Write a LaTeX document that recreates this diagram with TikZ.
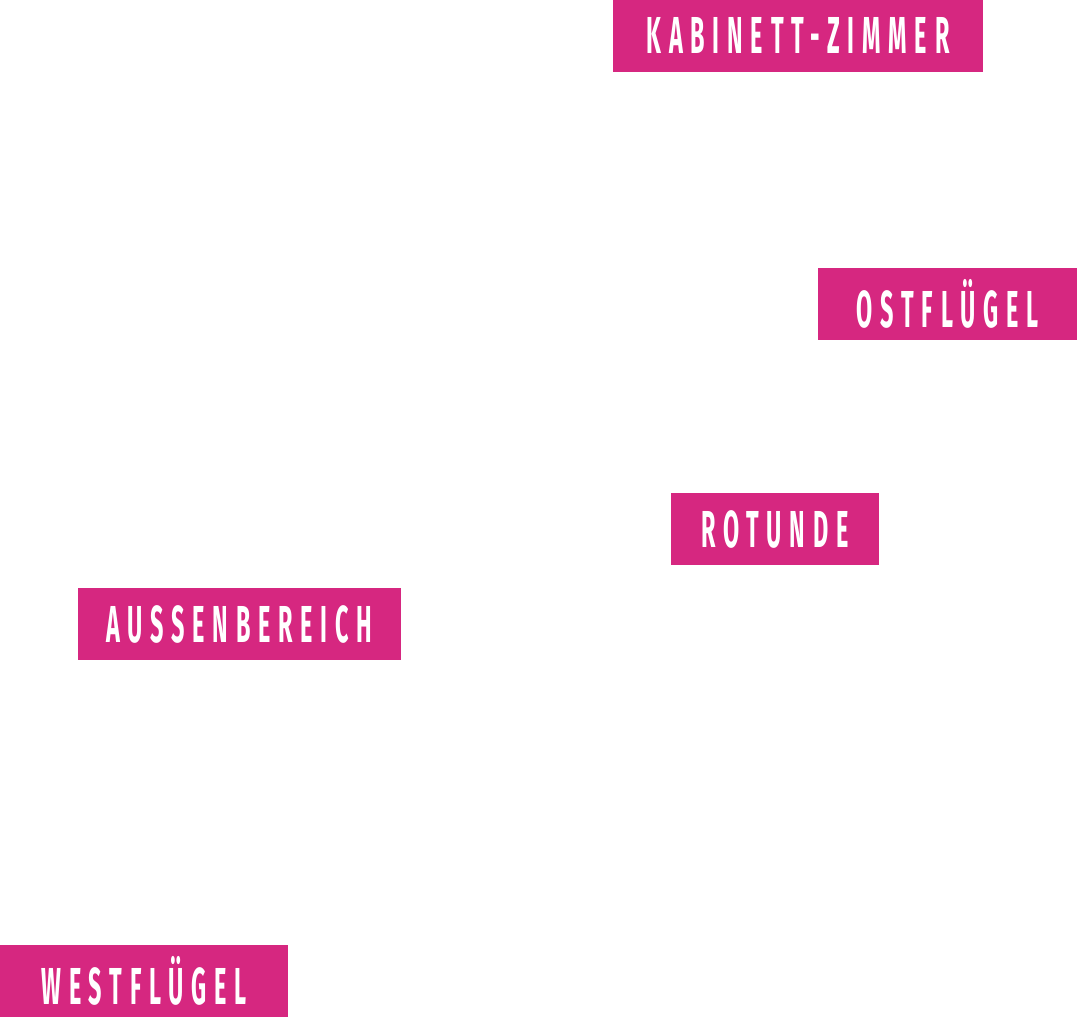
\documentclass[tikz,border=0pt]{standalone}
\usepackage{fontspec}
\newfontfamily\roomfont[FakeStretch=0.45,LetterSpace=15]{Fira Sans}
\definecolor{roompink}{HTML}{D62780}
\tikzset{roombox/.style={fill=roompink,text=white,inner sep=0pt,
  minimum height=72pt,font=\roomfont\bfseries\fontsize{52}{52}\selectfont}}
\begin{document}
\begin{tikzpicture}[x=1pt,y=-1pt]
\useasboundingbox (0,0) rectangle (1077,1017);
\node[roombox,minimum width=370pt] (kabinett) at (798,35.5) {KABINETT-ZIMMER};
\node[roombox,minimum width=259pt] (ost) at (947.5,304) {OSTFLÜGEL};
\node[roombox,minimum width=208pt] (rotunde) at (775,529) {ROTUNDE};
\node[roombox,minimum width=323pt] (aussen) at (239.5,624) {AUSSENBEREICH};
\node[roombox,minimum width=288pt] (west) at (144,981) {WESTFLÜGEL};
\end{tikzpicture}
\end{document}
